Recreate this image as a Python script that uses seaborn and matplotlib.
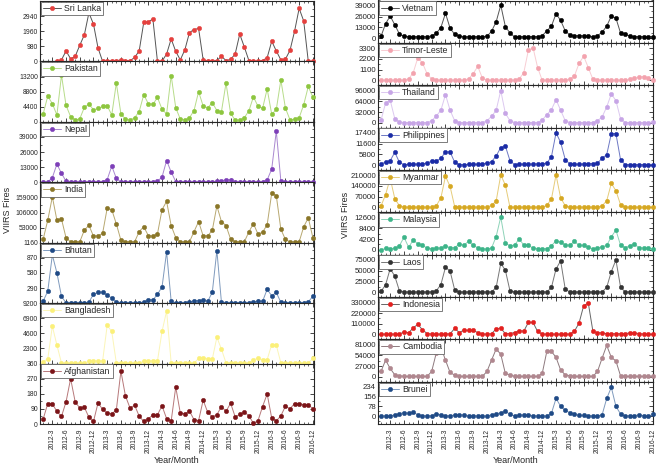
import numpy as np
import pandas as pd
import matplotlib
matplotlib.use("Agg")
import matplotlib.pyplot as plt
import seaborn as sns
from matplotlib.ticker import FixedLocator, FixedFormatter

nan = np.nan
months = [f"{y}-{m}" for y in range(2012, 2017) for m in range(1, 13)]
tick_labels = [m for i, m in enumerate(months) if i % 3 == 2]

sri_lanka = [nan, nan, nan, 0, 100, 680, 170, 330, 1050, 1720,
             3150, 2420, 870, 0, 20, 40, 60, 80, 60, 40,
             260, 680, 2530, 2570, 2750, 0, 20, 480, 1460, 650,
             100, 760, 1870, 2070, 2140, 100, 20, 20, 60, 330,
             60, 130, 480, 1770, 940, 60, 20, 20, 60, 240,
             1310, 680, 100, 150, 720, 1960, 3440, 2620, 0, 0]
pakistan = [2350, 7500, 5300, 2000, 13600, 4800, 1500, 500, 900, 4200,
            5200, 3500, 3900, 4500, 4700, 2000, 11300, 2350, 800, 500,
            1200, 3000, 7900, 5300, 5100, 7100, 3700, 2300, 13500, 4100,
            800, 500, 1200, 3300, 8800, 4600, 4100, 5600, 3300, 3000,
            11300, 2500, 500, 500, 1200, 3200, 7300, 4500, 3900, 9600,
            2200, 3600, 12200, 4000, 600, 700, 1200, 5000, 10300, 7200]
nepal = [100, 200, 4000, 15600, 7700, 900, 200, 100, 100, 100,
         100, 300, 400, 500, 2300, 13900, 3400, 200, 100, 100,
         100, 100, 200, 300, 500, 900, 4500, 18700, 8800, 600,
         200, 100, 100, 100, 100, 200, 300, 500, 700, 1000,
         2300, 2000, 300, 100, 100, 100, 200, 300, 500, 2000,
         11400, 44000, 1100, 300, 200, 100, 100, 200, 300, 500]
india = [12700, 79000, 161000, 79000, 83000, 17000, 3000, 3000, 3000, 44000,
         61000, 23000, 24000, 33000, 121000, 116000, 66000, 9000, 3000, 3000,
         3000, 39000, 56000, 25000, 23000, 31000, 116000, 145000, 60000, 18000,
         3000, 3000, 3000, 39000, 74000, 24000, 24000, 44000, 129000, 74000,
         60000, 12700, 3000, 3000, 3000, 38000, 67000, 30000, 37000, 63000,
         174000, 165000, 47000, 11500, 3000, 3000, 3000, 56000, 87000, 18000]
bhutan = [40, 230, 925, 580, 130, 5, 5, 5, 5, 5,
          20, 170, 210, 210, 150, 100, 20, 5, 5, 5,
          5, 5, 20, 65, 60, 170, 310, 985, 35, 5,
          5, 5, 20, 45, 50, 60, 35, 210, 1010, 15,
          5, 5, 10, 5, 5, 5, 25, 35, 35, 265,
          140, 205, 15, 10, 10, 10, 10, 10, 25, 130]
bangladesh = [300, 700, 5700, 2800, 100, 50, 50, 50, 50, 50,
              400, 400, 400, 400, 5800, 4900, 100, 50, 50, 50,
              50, 50, 400, 400, 400, 400, 4900, 8000, 100, 50,
              50, 50, 50, 50, 800, 900, 700, 700, 4000, 2200,
              100, 50, 50, 50, 50, 50, 600, 800, 600, 600,
              2900, 2800, 100, 50, 50, 50, 50, 50, 50, 800]
afghanistan = [30, 122, 120, 75, 45, 132, 270, 132, 95, 100,
               40, 15, 126, 87, 65, 61, 83, 315, 167, 95,
               112, 47, 15, 30, 55, 55, 108, 32, 18, 220,
               65, 61, 77, 26, 20, 142, 69, 43, 55, 104,
               75, 124, 43, 57, 71, 49, 4, 20, 104, 179,
               35, 18, 49, 106, 91, 122, 122, 114, 114, 91]

vietnam = [2000, 17500, 26600, 16000, 4900, 2000, 1600, 1600, 1600, 1600,
           1600, 2500, 5700, 12700, 30000, 11900, 4500, 2500, 1200, 1600,
           1600, 1600, 1600, 2000, 8200, 19700, 39800, 13900, 6100, 1200,
           1600, 1600, 1600, 1600, 1600, 2900, 8600, 14400, 29500, 21300,
           8600, 3700, 2500, 2900, 2500, 2000, 1600, 2900, 7000, 14400,
           26600, 24200, 6100, 4500, 2500, 1600, 1600, 1600, 1600, 1600]
timor_leste = [0, 0, 0, 0, 0, 0, 140, 790, 2330, 1790,
               680, 140, 0, 0, 0, 0, 0, 0, 0, 140,
               680, 1430, 250, 0, 0, 0, 0, 0, 0, 0,
               140, 790, 3110, 3370, 1320, 0, 0, 0, 0, 0,
               0, 140, 470, 1750, 2470, 1320, 100, 0, 0, 0,
               0, 0, 0, 0, 100, 210, 320, 390, 250, 0]
thailand = [7000, 59000, 67000, 12000, 2000, 500, 500, 500, 500, 500,
            500, 6000, 20000, 37000, 84000, 37000, 6000, 500, 500, 500,
            500, 500, 500, 6000, 19000, 37000, 96000, 28000, 6000, 500,
            500, 500, 500, 500, 500, 8000, 24000, 39000, 69000, 37000,
            6000, 500, 500, 500, 500, 500, 500, 6000, 17000, 47000,
            86000, 66000, 12000, 500, 500, 500, 500, 500, 500, 2000]
philippines = [560, 1700, 2400, 6900, 1500, 200, 370, 560, 370, 560,
               1100, 2100, 2100, 3700, 7100, 7100, 1500, 200, 200, 370,
               370, 370, 560, 1000, 1900, 4900, 9500, 10300, 2400, 200,
               560, 370, 370, 560, 560, 560, 1100, 4500, 17400, 12300,
               3000, 560, 560, 370, 560, 750, 750, 1000, 3700, 5600,
               17000, 17000, 3000, 200, 200, 200, 200, 200, 200, 200]
myanmar = [9000, 84000, 190000, 57000, 11000, 1000, 1000, 1000, 1000, 1000,
           1000, 1000, 11000, 62000, 203000, 137000, 4500, 1000, 1000, 1000,
           1000, 1000, 1000, 1000, 14000, 41000, 212000, 146000, 1000, 1000,
           1000, 1000, 1000, 1000, 1000, 1000, 14000, 55000, 212000, 62000,
           11000, 1000, 1000, 1000, 1000, 1000, 1000, 1000, 11000, 43000,
           157000, 109000, 18000, 1000, 1000, 1000, 1000, 1000, 1000, 1000]
malaysia = [0, 500, 400, 500, 1600, 4900, 1000, 3800, 2300, 1800,
            650, 400, 650, 650, 1600, 800, 800, 2300, 1700, 3400,
            1700, 800, 400, 130, 650, 5200, 12800, 2600, 1600, 1800,
            4300, 1800, 1700, 650, 400, 400, 400, 1600, 3500, 3000,
            1800, 1800, 3300, 1700, 1700, 1000, 400, 650, 1200, 1700,
            5100, 7700, 1800, 800, 1600, 2200, 800, 650, 650, 260]
laos = [1600, 17000, 55000, 37000, 3000, 300, 300, 300, 300, 300,
        300, 300, 3000, 17500, 58000, 49000, 5000, 300, 300, 300,
        300, 300, 300, 300, 300, 11000, 67000, 51000, 3000, 300,
        300, 300, 300, 300, 300, 300, 300, 11000, 54000, 73000,
        7000, 300, 300, 300, 300, 300, 300, 300, 300, 11000,
        48000, 75000, 12000, 300, 300, 300, 300, 300, 300, 300]
indonesia = [3000, 3000, 3000, 3000, 3000, 27000, 17000, 69000, 103000, 48000,
             10000, 3000, 3000, 3000, 3000, 7000, 62000, 20000, 45000, 41000,
             41000, 20000, 3000, 3000, 7000, 58000, 65000, 7000, 10000, 20000,
             38000, 34000, 124000, 124000, 31000, 3000, 3000, 3000, 3000, 3000,
             3000, 3000, 34000, 117000, 296000, 323000, 34000, 17000, 17000, 7000,
             7000, 7000, 7000, 7000, 17000, 14000, 10000, 3000, 3000, 3000]
cambodia = [13500, 42000, 21000, 5000, 2500, 1000, 1000, 1000, 1000, 1000,
            1000, 13500, 60000, 75000, 42000, 11000, 4000, 1000, 1000, 1000,
            1000, 1000, 1000, 13500, 42000, 70000, 57000, 8400, 5000, 1000,
            1000, 1000, 1000, 1000, 1000, 8400, 64000, 64000, 49000, 17000,
            5000, 2500, 1000, 1000, 1000, 1000, 1000, 13500, 47000, 79000,
            49000, 40000, 2500, 1000, 1000, 1000, 1000, 1000, 1000, 1000]
brunei = [0, 0, 0, 10, 20, 27, 22, 32, 10, 3,
          0, 3, 17, 10, 0, 3, 8, 10, 8, 0,
          3, 0, 0, 0, 10, 17, 27, 40, 13, 3,
          8, 8, 5, 3, 0, 0, 0, 22, 140, 78,
          45, 27, 15, 5, 5, 3, 0, 0, 10, 140,
          228, 78, 17, 0, 3, 3, 10, 3, 0, 13]

# name, values, marker colour, line colour, tick step, labels shown (0..4 multiples)
left_panels = [
    ("Sri Lanka", sri_lanka, "#e5403e", "#555555", 980, [0, 1, 2, 3]),
    ("Pakistan", pakistan, "#8dc63f", "#b7dc8a", 4400, [0, 1, 2, 3]),
    ("Nepal", nepal, "#7d3fb8", "#a987d0", 13000, [0, 1, 2, 3]),
    ("India", india, "#8a7628", "#b8a870", 53000, [1, 2, 3]),
    ("Bhutan", bhutan, "#1f4a86", "#7f9abd", 290, [1, 2, 3, 4]),
    ("Bangladesh", bangladesh, "#fbf07a", "#fbf5b8", 2300, [1, 2, 3, 4]),
    ("Afghanistan", afghanistan, "#7b1418", "#b7787a", 90, [0, 1, 2, 3, 4]),
]
right_panels = [
    ("Vietnam", vietnam, "#000000", "#555555", 13000),
    ("Timor-Leste", timor_leste, "#f3a3ae", "#f8cdd3", 1100),
    ("Thailand", thailand, "#c7a5e6", "#dcc8f0", 32000),
    ("Philippines", philippines, "#1b2ca6", "#6d78c4", 5800),
    ("Myanmar", myanmar, "#d6a823", "#e6cc7a", 70000),
    ("Malaysia", malaysia, "#3db489", "#8ed3b8", 4200),
    ("Laos", laos, "#333333", "#777777", 25000),
    ("Indonesia", indonesia, "#e3201f", "#666666", 110000),
    ("Cambodia", cambodia, "#b0878f", "#8e7a7e", 27000),
    ("Brunei", brunei, "#1f4a86", "#7f9abd", 78),
]

sns.set_style("ticks")
plt.rcParams["font.family"] = ["Liberation Sans", "DejaVu Sans"]
plt.rcParams["axes.linewidth"] = 0.8

fig = plt.figure(figsize=(6.58, 4.71), dpi=100)
gsL = fig.add_gridspec(7, 1, left=40/658, right=314/658, top=1-1/471, bottom=1-424/471, hspace=0)
gsR = fig.add_gridspec(10, 1, left=378/658, right=653/658, top=1-0.5/471, bottom=1-424/471, hspace=0)

idx = np.arange(len(months))


def draw(ax, name, vals, mcol, lcol):
    df = pd.DataFrame({"month": idx, "fires": vals})
    sns.lineplot(data=df, x="month", y="fires", ax=ax, color=lcol, linewidth=0.7,
                 marker="o", markersize=3.2, markerfacecolor=mcol, markeredgecolor=mcol,
                 markeredgewidth=0.3, label=name, clip_on=False, zorder=3)
    leg = ax.legend(loc="upper left", fontsize=6.3, frameon=True, fancybox=False,
                    edgecolor="#666666", framealpha=1, borderpad=0.25, borderaxespad=0.1,
                    handlelength=2.0, handletextpad=0.4)
    leg.get_frame().set_linewidth(0.6)
    leg.set_zorder(5)
    ax.set_xlabel("")
    ax.set_ylabel("")


def style_x(ax, bottom, xmin, xmax):
    ax.set_xlim(xmin, xmax)
    ax.xaxis.set_major_locator(FixedLocator(list(range(2, 60, 3))))
    ax.xaxis.set_minor_locator(FixedLocator(list(range(0, 60))))
    ax.tick_params(axis="both", which="major", direction="in", length=3, width=0.6,
                   top=True, right=True)
    ax.tick_params(axis="both", which="minor", direction="in", length=1.5, width=0.5,
                   top=True, right=True)
    if bottom:
        ax.set_xticklabels(tick_labels, rotation=90, fontsize=4.8)
        ax.set_xlabel("Year/Month", fontsize=6.5, labelpad=2)
    else:
        ax.tick_params(axis="x", labelbottom=False)


for k, (name, vals, mc, lc, step, shown) in enumerate(left_panels):
    ax = fig.add_subplot(gsL[k])
    draw(ax, name, vals, mc, lc)
    ax.set_ylim(0, 4 * step)
    ticks = [step * j for j in range(5)]
    ax.yaxis.set_major_locator(FixedLocator(ticks))
    ax.yaxis.set_minor_locator(FixedLocator([step * (j + 0.5) for j in range(4)]))
    ax.yaxis.set_major_formatter(FixedFormatter([str(t) if j in shown else "" for j, t in enumerate(ticks)]))
    ax.tick_params(axis="y", labelsize=4.9, pad=1.5)
    style_x(ax, k == len(left_panels) - 1, -0.7, 59.25)

for k, (name, vals, mc, lc, step) in enumerate(right_panels):
    ax = fig.add_subplot(gsR[k])
    draw(ax, name, vals, mc, lc)
    low = -0.8 * step if name == "Brunei" else -0.45 * step
    ax.set_ylim(low, 3.5 * step)
    ticks = [step * j for j in range(4)]
    ax.yaxis.set_major_locator(FixedLocator(ticks))
    ax.yaxis.set_minor_locator(FixedLocator([step * (j + 0.5) for j in range(-1, 4)]))
    ax.yaxis.set_major_formatter(FixedFormatter([str(t) for t in ticks]))
    ax.tick_params(axis="y", labelsize=5.6, pad=1.5)
    style_x(ax, k == len(right_panels) - 1, -0.65, 59.05)

fig.text(8/658, 1-210/471, "VIIRS Fires", rotation=90, fontsize=6.5, ha="center", va="center")
fig.text(345/658, 1-215/471, "VIIRS Fires", rotation=90, fontsize=6.5, ha="center", va="center")

fig.savefig("out.png", dpi=100)
